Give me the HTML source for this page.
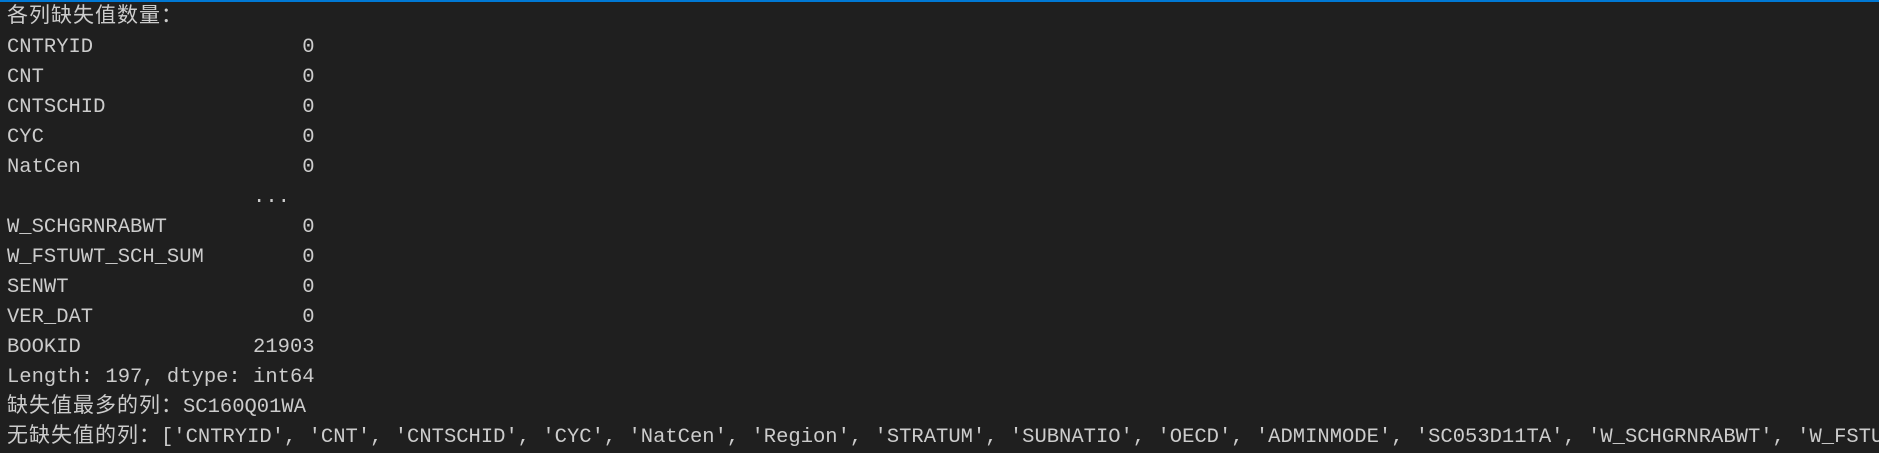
<!DOCTYPE html>
<html><head><meta charset="utf-8"><style>
html,body{margin:0;padding:0;background:#1f1f1f;}
body{width:1879px;height:453px;overflow:hidden;position:relative;border-top:2px solid #0078d4;box-sizing:border-box;}
#t{position:absolute;left:7px;top:2px;width:1872px;height:449px;overflow:hidden;font-family:"Liberation Mono","Noto Sans CJK SC",monospace;font-size:20.5px;color:#cccccc;}
#t div{height:30px;line-height:28px;white-space:pre;overflow:hidden;}
.c{font-family:"Noto Sans CJK SC","WenQuanYi Zen Hei",sans-serif;font-size:21px;letter-spacing:1px;line-height:1;}
</style></head><body>
<div id="t">
<div><span class="c">各列缺失值数量：</span></div>
<div>CNTRYID                 0</div>
<div>CNT                     0</div>
<div>CNTSCHID                0</div>
<div>CYC                     0</div>
<div>NatCen                  0</div>
<div>                    ...</div>
<div>W_SCHGRNRABWT           0</div>
<div>W_FSTUWT_SCH_SUM        0</div>
<div>SENWT                   0</div>
<div>VER_DAT                 0</div>
<div>BOOKID              21903</div>
<div>Length: 197, dtype: int64</div>
<div><span class="c">缺失值最多的列：</span>SC160Q01WA</div>
<div><span class="c">无缺失值的列：</span>['CNTRYID', 'CNT', 'CNTSCHID', 'CYC', 'NatCen', 'Region', 'STRATUM', 'SUBNATIO', 'OECD', 'ADMINMODE', 'SC053D11TA', 'W_SCHGRNRABWT', 'W_FSTUWT_SCH_SUM']</div>
</div>
</body></html>
